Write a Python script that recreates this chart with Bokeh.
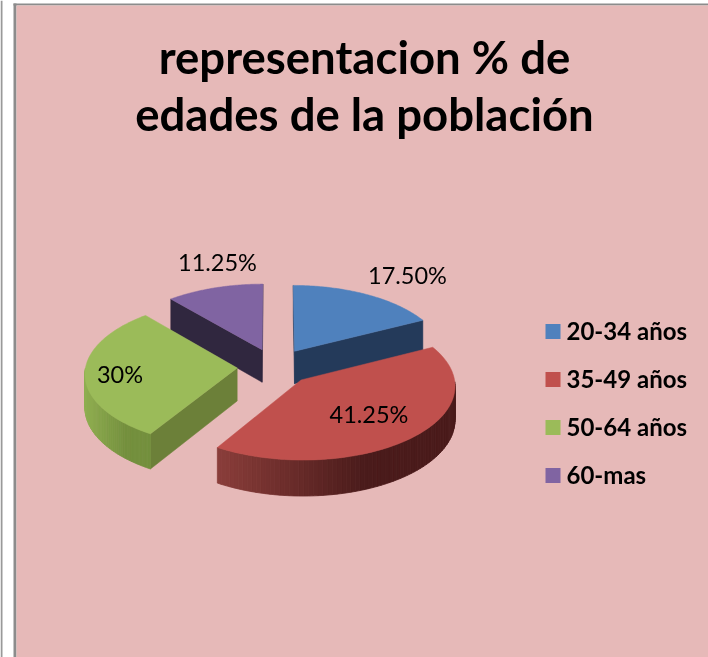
import numpy as np
from bokeh.plotting import figure
from bokeh.models import Range1d
from bokeh.core.properties import value
from bokeh.embed import file_html
from bokeh.resources import INLINE

title_lines = ["representacion % de", "edades de la población"]
categories = ["20-34 años", "35-49 años", "50-64 años", "60-mas"]
shares = [17.5, 41.25, 30.0, 11.25]
share_labels = ["17.50%", "41.25%", "30%", "11.25%"]
top_colors = ["#4f81bd", "#c0504d", "#9bbb59", "#8064a2"]
arm_colors = ["#243a5a", "#4a1b1b", "#6c8039", "#30273f"]
rim_left = ["#243a5a", "#8a3d3a", "#8fae50", "#30273f"]
rim_right = ["#243a5a", "#4a1b1b", "#74903e", "#30273f"]
label_xy = [(407, 274.5), (368.5, 413.5), (119.5, 373.5), (217, 261.5)]

W, H = 708, 657
CX, CY, RX, RY = 274.5, 366.0, 151.5, 72.5
EXPLODE, PERSP, DEPTH = 0.25, 0.07, 33.0
RIM_RAMP = 0.62


def project(px, py, drop=0.0):
    w = 1.0 / (1.0 + PERSP * py)
    return CX + RX * px * w, CY - RY * py * w + drop * w


def hex_rgb(c):
    return np.array([int(c[i:i + 2], 16) for i in (1, 3, 5)], dtype=float)


def mix(a, b, t):
    r = hex_rgb(a) * (1 - t) + hex_rgb(b) * t
    return "#%02x%02x%02x" % tuple(int(round(v)) for v in r)


p = figure(width=W, height=H, x_range=Range1d(0, W), y_range=Range1d(H, 0),
           toolbar_location=None, output_backend="svg", min_border=0,
           outline_line_color=None, background_fill_color="white",
           border_fill_color="white",
           styles={"position": "fixed", "left": "0px", "top": "0px"})
p.axis.visible = False
p.grid.visible = False

# frame of the picture
p.quad(left=[0], right=[2], top=[0], bottom=[H], fill_color="#999999", line_color=None)
p.quad(left=[13], right=[16], top=[3], bottom=[H], fill_color="#8c8c8c", line_color=None)
p.quad(left=[13], right=[W], top=[3], bottom=[5], fill_color="#8c8c8c", line_color=None)
p.quad(left=[16], right=[W], top=[5], bottom=[H], fill_color="#e6b9b8", line_color=None)

edges = np.cumsum([0.0] + shares) / sum(shares) * 2 * np.pi
draw_order = [3, 0, 2, 1]

for i in draw_order:
    a0, a1 = edges[i], edges[i + 1]
    mid = (a0 + a1) / 2
    ox, oy = EXPLODE * np.sin(mid), EXPLODE * np.cos(mid)
    th = np.linspace(a0, a1, 90)
    rimx, rimy = ox + np.sin(th), oy + np.cos(th)

    # radial walls facing the viewer
    for a, sign in ((a0, -1), (a1, 1)):
        normal_y = sign * -np.sin(a)
        if normal_y <= 1e-9:
            ex, ey = ox + np.sin(a), oy + np.cos(a)
            x1, y1 = project(ox, oy)
            x2, y2 = project(ex, ey)
            x3, y3 = project(ex, ey, DEPTH)
            x4, y4 = project(ox, oy, DEPTH)
            p.patch([x1, x2, x3, x4], [y1, y2, y3, y4], fill_color=arm_colors[i],
                    line_color=arm_colors[i], line_width=0.5)

    # curved outer wall, front part only, shaded strip by strip
    front = np.where(np.cos(th) <= 0)[0]
    if len(front) > 1:
        xs, ys, cs = [], [], []
        tx, ty = project(rimx[front], rimy[front])
        bx, by = project(rimx[front], rimy[front], DEPTH)
        span = (tx.min(), tx.max())
        for k in range(len(front) - 1):
            xs.append([tx[k], tx[k + 1], bx[k + 1], bx[k]])
            ys.append([ty[k], ty[k + 1], by[k + 1], by[k]])
            t = ((tx[k] + tx[k + 1]) / 2 - span[0]) / (span[1] - span[0])
            cs.append(mix(rim_left[i], rim_right[i], min(1.0, t / RIM_RAMP)))
        p.patches(xs, ys, fill_color=cs, line_color=cs, line_width=0.8)

    # top face
    fx, fy = project(np.r_[ox, rimx], np.r_[oy, rimy])
    p.patch(fx, fy, fill_color=top_colors[i], line_color=top_colors[i], line_width=0.5)

# value labels
p.text(x=[c[0] for c in label_xy], y=[c[1] for c in label_xy], text=share_labels,
       text_font=value("Lato"), text_font_size="23.5px", text_color="#000000",
       text_align="center", text_baseline="middle")

# title
p.text(x=[364, 364], y=[56, 113], text=title_lines, text_font=value("Lato"),
       text_font_size="45.5px", text_font_style="bold", text_color="#000000",
       text_align="center", text_baseline="middle")

# legend
legend_y = [331, 379, 427, 475]
p.rect(x=[552.5] * 4, y=legend_y, width=15, height=15, fill_color=top_colors, line_color=None)
p.text(x=[566] * 4, y=[v - 1.5 for v in legend_y], text=categories, text_font=value("Lato"),
       text_font_size="24px", text_font_style="bold", text_color="#000000",
       text_align="left", text_baseline="middle")

open("out.html", "w").write(file_html(p, INLINE))
